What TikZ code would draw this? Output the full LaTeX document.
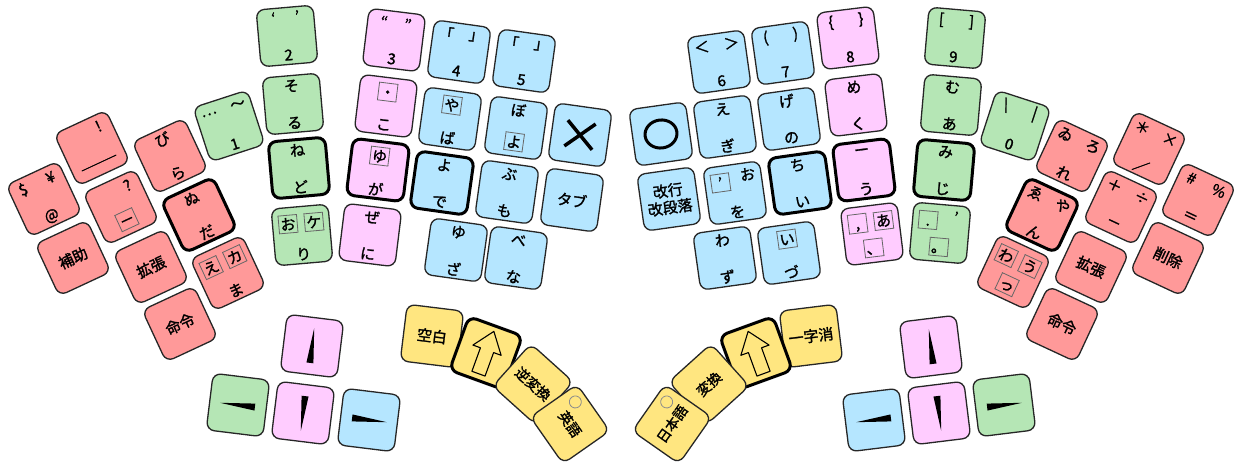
\documentclass[tikz,border=0pt]{standalone}
\usepackage{fontspec}
\setmainfont{Noto Sans CJK JP}[AutoFakeBold=1.6]
\usepackage{graphicx}
\definecolor{keyred}{RGB}{255,153,153}
\definecolor{keygreen}{RGB}{181,230,181}
\definecolor{keypink}{RGB}{255,204,255}
\definecolor{keyblue}{RGB}{181,230,255}
\definecolor{keyyellow}{RGB}{255,230,128}
\newcommand{\keyfont}{\fontsize{15}{17}\selectfont\bfseries}
\newcommand{\bx}[1]{{\setlength{\fboxsep}{1pt}\setlength{\fboxrule}{0.8pt}\color{black!60}\fbox{\color{black}\makebox[1.05em][c]{\rule[-0.12em]{0pt}{1em}#1}}}}
% one key: name, centre, angle, style, labels
\newcommand{\kbkey}[5]{%
  \begin{scope}[shift={(#2)},rotate=#3,transform shape]
    \def\kname{#1}
    \node[#4] (#1) {};
    #5
  \end{scope}}
\newcommand{\wup}{\fill (0,18) -- (-3.5,-17) -- (3.5,-17) -- cycle;}
\newcommand{\wdown}{\fill (0,-18) -- (-3.5,17) -- (3.5,17) -- cycle;}
\newcommand{\wleft}{\fill (-18,0) -- (17,-3.5) -- (17,3.5) -- cycle;}
\newcommand{\wright}{\fill (18,0) -- (-17,-3.5) -- (-17,3.5) -- cycle;}
\newcommand{\shiftarrow}{\draw[line width=1.1pt,line join=round] (0,23) -- (15,3) -- (7,3) -- (7,-22) -- (-7,-22) -- (-7,3) -- (-15,3) -- cycle;}
\tikzset{
  keybase/.style={draw=black!85,line width=1.3pt,rounded corners=8pt,minimum size=57pt,inner sep=0pt},
  redkey/.style={keybase,fill=keyred},
  greenkey/.style={keybase,fill=keygreen},
  pinkkey/.style={keybase,fill=keypink},
  bluekey/.style={keybase,fill=keyblue},
  yellowkey/.style={keybase,fill=keyyellow},
  boldkey/.style={draw=black,line width=3pt},
  kl/.style={at={(-15,17)},name=\kname-l},
  kr/.style={at={(15,17)},name=\kname-r},
  kt/.style={at={(0,18)},name=\kname-t},
  kb/.style={at={(0,-19)},name=\kname-b},
  kc/.style={at={(0,0)},name=\kname-c},
  bl/.style={at={(-13,12)},name=\kname-l},
  br/.style={at={(13,12)},name=\kname-r},
  bt/.style={at={(0,14)},name=\kname-t},
  bb/.style={at={(0,-14)},name=\kname-b},
  thumb/.style={font=\fontsize{14}{16}\selectfont\bfseries},
  ledline/.style={draw=black!45,line width=0.8pt}
}
\begin{document}
\begin{tikzpicture}[x=1pt,y=1pt,every node/.style={font=\keyfont,inner sep=0pt}]
\useasboundingbox (0,0) rectangle (1235,-463);

% left hand, outer block
\kbkey{kdollar}{44,-199}{25}{redkey}{\node[kl]{\$}; \node[kr]{¥}; \node[kb]{@};}
\kbkey{kexcl}{92,-148}{25}{redkey}{\node[kr]{!}; \node[kb,yshift=3pt]{\scalebox{2.5}[1]{＿}};}
\kbkey{kques}{121,-207}{25}{redkey}{\node[kr]{?}; \node[bb]{\bx{－}};}
\kbkey{kbira}{170,-156}{25}{redkey}{\node[kt]{び}; \node[kb]{ら};}
\kbkey{knuda}{199,-215}{25}{redkey,boldkey}{\node[kt]{ぬ}; \node[kb]{だ};}
\kbkey{khojo}{73,-258}{25}{redkey}{\node[kc]{補助};}
\kbkey{kkaku}{151,-267}{25}{redkey}{\node[kc]{拡張};}
\kbkey{kma}{228,-273}{25}{redkey}{\node[bl]{\bx{え}}; \node[br]{\bx{カ}}; \node[kb]{ま};}
\kbkey{kmei}{180,-324}{25}{redkey}{\node[kc]{命令};}
\kbkey{kone}{229,-126}{18}{greenkey}{\node[kl]{…}; \node[kr]{～}; \node[kb]{1};}

% left hand, main block
\kbkey{ktwo}{287,-36}{5}{greenkey}{\node[kl,xshift=3pt,yshift=2pt]{‘}; \node[kr,xshift=-3pt,yshift=2pt]{’}; \node[kb]{2};}
\kbkey{ksoru}{293,-104}{5}{greenkey}{\node[kt]{そ}; \node[kb]{る};}
\kbkey{knedo}{299,-168}{5}{greenkey,boldkey}{\node[kt]{ね}; \node[kb]{ど};}
\kbkey{kri}{302,-235}{5}{greenkey}{\node[bl]{\bx{お}}; \node[br]{\bx{ケ}}; \node[kb]{り};}
\kbkey{kthree}{394,-40}{-7}{pinkkey}{\node[kl,xshift=3pt]{“}; \node[kr,xshift=-3pt]{”}; \node[kb]{3};}
\kbkey{kko}{386,-106}{-7}{pinkkey}{\node[bt]{\bx{・}}; \node[kb]{こ};}
\kbkey{kga}{378,-170}{-7}{pinkkey,boldkey}{\node[bt]{\bx{ゆ}}; \node[kb]{が};}
\kbkey{kni}{370,-235}{-7}{pinkkey}{\node[kt]{ぜ}; \node[kb]{に};}
\kbkey{kfour}{459,-52}{-8}{bluekey}{\node[kl]{「}; \node[kr]{」}; \node[kb]{4};}
\kbkey{kfive}{524,-61}{-8}{bluekey}{\node[kl]{「}; \node[kr]{」}; \node[kb]{5};}
\kbkey{kba}{450,-119}{-8}{bluekey}{\node[bt]{\bx{や}}; \node[kb]{ば};}
\kbkey{kbo}{516,-128}{-8}{bluekey}{\node[kt]{ぼ}; \node[bb]{\bx{よ}};}
\kbkey{kbatsu}{580,-135}{-8}{bluekey}{\draw[line width=3.5pt] (-14,13) -- (14,-13) (-14,-13) -- (14,13);}
\kbkey{kde}{442,-183}{-8}{bluekey,boldkey}{\node[kt]{よ}; \node[kb]{で};}
\kbkey{kmo}{507,-192}{-8}{bluekey}{\node[kt]{ぶ}; \node[kb]{も};}
\kbkey{ktab}{572,-200}{-8}{bluekey}{\node[kc]{タブ};}
\kbkey{kza}{456,-250}{-8}{bluekey}{\node[kt]{ゆ}; \node[kb]{ざ};}
\kbkey{kna}{516,-258}{-8}{bluekey}{\node[kt]{べ}; \node[kb]{な};}

% left hand, cursor and thumb keys
\kbkey{kup}{312,-346}{-7}{pinkkey}{\wup}
\kbkey{kleft}{238,-405}{-7}{greenkey}{\wleft}
\kbkey{kdown}{303,-413}{-7}{pinkkey}{\wdown}
\kbkey{kright}{369,-420}{-7}{bluekey}{\wright}
\kbkey{kkuhaku}{432,-336}{-7}{yellowkey}{\node[kc]{空白};}
\kbkey{kshiftl}{486,-353}{-20}{yellowkey,boldkey}{\shiftarrow}
\kbkey{kgyaku}{533,-384}{-42}{yellowkey}{\node[kc,thumb]{逆変換};}
\kbkey{keigo}{570,-424}{-55}{yellowkey}{\draw[ledline] (-15,17) circle (6); \node[kc,thumb]{英語};}

% right hand, main block
\kbkey{ksix}{719,-62}{8}{bluekey}{\node[kl]{＜}; \node[kr]{＞}; \node[kb]{6};}
\kbkey{kseven}{783,-53}{8}{bluekey}{\node[kl]{(}; \node[kr]{)}; \node[kb]{7};}
\kbkey{kmaruo}{661,-134}{8}{bluekey}{\draw[line width=3pt] (0,0) ellipse (16 and 14);}
\kbkey{kegi}{725,-127}{8}{bluekey}{\node[kt]{え}; \node[kb]{ぎ};}
\kbkey{kgeno}{789,-119}{8}{bluekey}{\node[kt]{げ}; \node[kb]{の};}
\kbkey{kkaigyo}{669,-199}{8}{bluekey}{\node[kc,align=center]{改行\\改段落};}
\kbkey{kwo}{735,-193}{8}{bluekey}{\node[bl]{\bx{'}}; \node[kr]{お}; \node[kb]{を};}
\kbkey{kchii}{800,-183}{8}{bluekey,boldkey}{\node[kt]{ち}; \node[kb]{い};}
\kbkey{kwazu}{725,-258}{8}{bluekey}{\node[kt]{わ}; \node[kb]{ず};}
\kbkey{kdzu}{789,-253}{8}{bluekey}{\node[bt]{\bx{い}}; \node[kb]{づ};}
\kbkey{keight}{848,-38}{7}{pinkkey}{\node[kl]{\{}; \node[kr]{\}}; \node[kb]{8};}
\kbkey{kmeku}{856,-105}{7}{pinkkey}{\node[kt]{め}; \node[kb]{く};}
\kbkey{kchou}{864,-170}{7}{pinkkey,boldkey}{\node[kt]{ー}; \node[kb]{う};}
\kbkey{kten}{872,-234}{7}{pinkkey}{\node[bl]{\bx{,}}; \node[br]{\bx{あ}}; \node[bb]{\bx{、}};}
\kbkey{knine}{955,-38}{-5}{greenkey}{\node[kl]{[}; \node[kr]{]}; \node[kb]{9};}
\kbkey{kmua}{951,-105}{-5}{greenkey}{\node[kt]{む}; \node[kb]{あ};}
\kbkey{kmiji}{944,-170}{-5}{greenkey,boldkey}{\node[kt]{み}; \node[kb]{じ};}
\kbkey{kmaru}{940,-233}{-5}{greenkey}{\node[bl]{\bx{.}}; \node[kr]{'}; \node[bb]{\bx{。}};}

% right hand, outer block
\kbkey{kzero}{1015,-126}{-18}{greenkey}{\node[kl]{\textbackslash}; \node[kr]{|}; \node[kb]{0};}
\kbkey{kwiro}{1072,-156}{-25}{redkey}{\node[kl]{ゐ}; \node[kr]{ろ}; \node[kb]{れ};}
\kbkey{kaster}{1149,-149}{-25}{redkey}{\node[kl]{＊}; \node[kr]{×}; \node[kb]{／};}
\kbkey{kyan}{1042,-215}{-25}{redkey,boldkey}{\node[kl]{ゑ}; \node[kr]{や}; \node[kb]{ん};}
\kbkey{kplus}{1121,-207}{-25}{redkey}{\node[kl]{＋}; \node[kr]{÷}; \node[kb]{－};}
\kbkey{khash}{1198,-200}{-25}{redkey}{\node[kl]{\#}; \node[kr]{\%}; \node[kb]{＝};}
\kbkey{kwau}{1013,-272}{-25}{redkey}{\node[bl]{\bx{わ}}; \node[br]{\bx{う}}; \node[bb]{\bx{っ}};}
\kbkey{kkaku2}{1091,-267}{-25}{redkey}{\node[kc]{拡張};}
\kbkey{ksakujo}{1168,-258}{-25}{redkey}{\node[kc]{削除};}
\kbkey{kmei2}{1062,-324}{-25}{redkey}{\node[kc]{命令};}

% right hand, cursor and thumb keys
\kbkey{kup2}{931,-347}{7}{pinkkey}{\wup}
\kbkey{kleft2}{874,-420}{7}{bluekey}{\wleft}
\kbkey{kdown2}{939,-413}{7}{pinkkey}{\wdown}
\kbkey{kright2}{1004,-405}{7}{greenkey}{\wright}
\kbkey{kichiji}{811,-336}{7}{yellowkey}{\node[kc]{一字消};}
\kbkey{kshiftr}{756,-353}{20}{yellowkey,boldkey}{\shiftarrow}
\kbkey{khenkan}{709,-384}{42}{yellowkey}{\node[kc,thumb]{変換};}
\kbkey{knihongo}{672,-424}{55}{yellowkey}{\draw[ledline] (15,17) circle (6); \node[kc,thumb]{日本語};}
\end{tikzpicture}
\end{document}
